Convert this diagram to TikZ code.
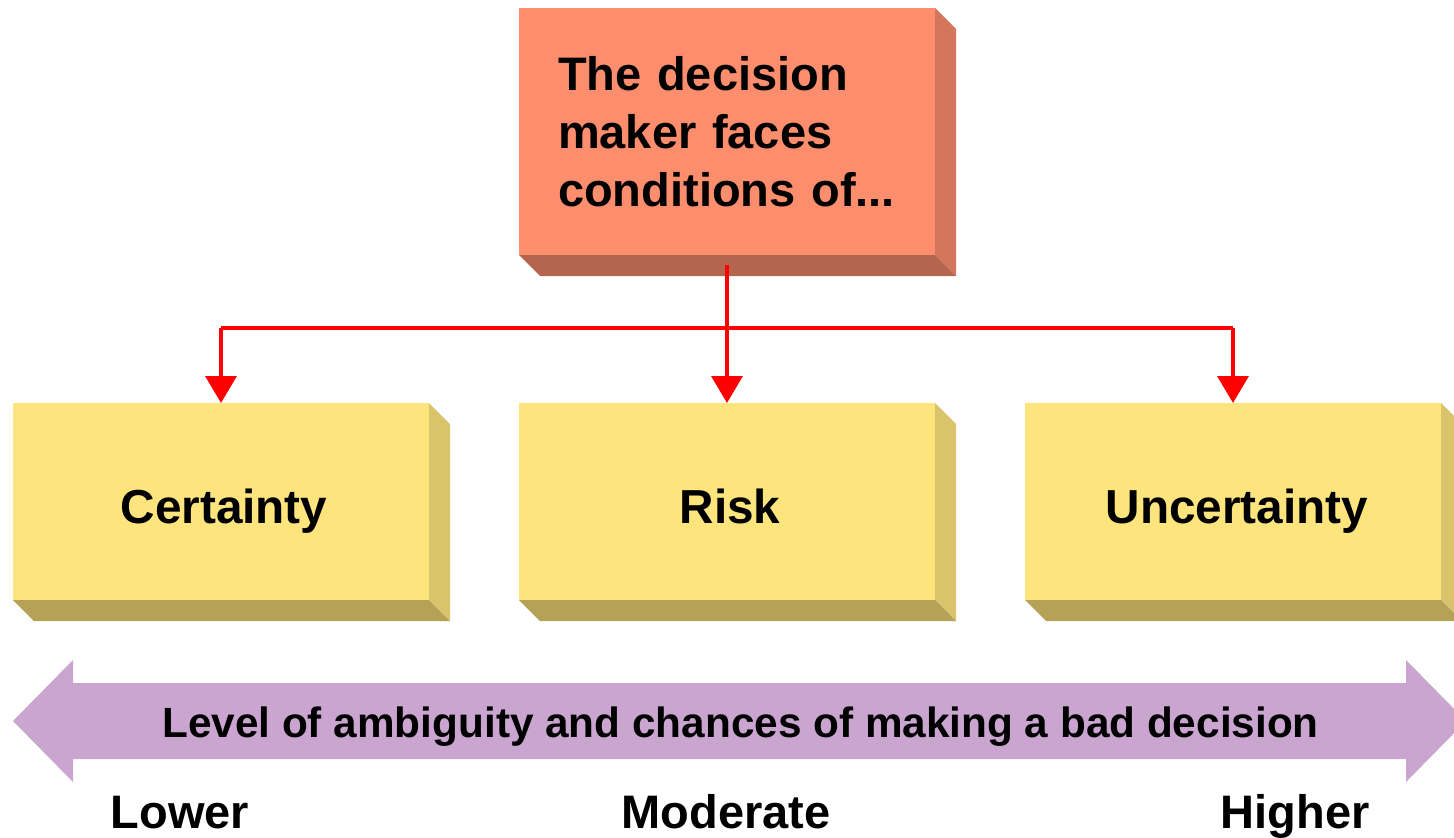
\documentclass[tikz,border=0pt]{standalone}
\usepackage{fontspec}
\setmainfont{Liberation Sans}
\usetikzlibrary{arrows.meta,calc}
\definecolor{salF}{RGB}{252,141,109}
\definecolor{salR}{RGB}{211,118,92}
\definecolor{salB}{RGB}{180,101,78}
\definecolor{yelF}{RGB}{253,228,124}
\definecolor{yelR}{RGB}{217,196,107}
\definecolor{yelB}{RGB}{181,162,86}
\definecolor{purp}{RGB}{201,165,208}
\tikzset{
  face/.style={inner sep=0pt, outer sep=0pt, font=\fontsize{47}{58}\selectfont\bfseries},
  ybox/.style={face, font=\fontsize{47.7}{58}\selectfont\bfseries, fill=yelF, minimum width=416pt, minimum height=197pt, text height=45pt, text depth=2pt},
  sbox/.style={face, fill=salF, minimum width=416pt, minimum height=247pt, text width=338pt, align=left, inner xsep=39pt},
  conn/.style={draw=red, line width=3.5pt},
  connarr/.style={conn, -{Triangle[width=31pt,length=27pt]}},
  lbl/.style={inner sep=0pt, font=\fontsize{47}{56}\selectfont\bfseries},
  barlbl/.style={inner sep=0pt, font=\fontsize{42.3}{50}\selectfont\bfseries}
}
\newcommand\sides[4]{% node, depth, right colour, bottom colour
  \fill[#3] (#1.north east) -- ++(#2,#2) -- ($(#1.south east)+(#2,#2)$) -- (#1.south east) -- cycle;
  \fill[#4] (#1.south west) -- ++(#2,#2) -- ($(#1.south east)+(#2,#2)$) -- (#1.south east) -- cycle;
}
\begin{document}
\begin{tikzpicture}[x=1pt,y=-1pt]
\useasboundingbox (0,0) rectangle (1454,838);
% top box
\node[sbox] (top) at (727,131.5) {The decision maker faces conditions of...};
\sides{top}{21}{salR}{salB}
% yellow boxes
\node[ybox] (cert) at (221,501.5) {\hspace*{6pt}Certainty};
\node[ybox] (risk) at (727,501.5) {\hspace*{6pt}Risk};
\node[ybox] (unc) at (1233,501.5) {\hspace*{8pt}Uncertainty};
\sides{cert}{21}{yelR}{yelB}
\sides{risk}{21}{yelR}{yelB}
\sides{unc}{21}{yelR}{yelB}
% connectors
\coordinate (src) at ([yshift=-10pt]top.south);
\coordinate (bus) at (727,328);
\draw[conn] (bus -| cert.north) -- (bus -| unc.north);
\draw[connarr] (src) -- (risk.north);
\draw[connarr] (bus -| cert.north) -- (cert.north);
\draw[connarr] (bus -| unc.north) -- (unc.north);
% double arrow
\fill[purp] (13,721) -- (73,660) -- (73,683) -- (1406,683) -- (1406,660) -- (1466,721)
  -- (1406,782) -- (1406,759) -- (73,759) -- (73,782) -- cycle;
\node[barlbl, anchor=base] (bar) at (740.5,737) {Level of ambiguity and chances of making a bad decision};
\node[lbl, anchor=base] (lower) at (180,828) {Lower};
\node[lbl, anchor=base] (mod) at (726,828) {Moderate};
\node[lbl, anchor=base] (high) at (1295,828) {Higher};
\end{tikzpicture}
\end{document}
